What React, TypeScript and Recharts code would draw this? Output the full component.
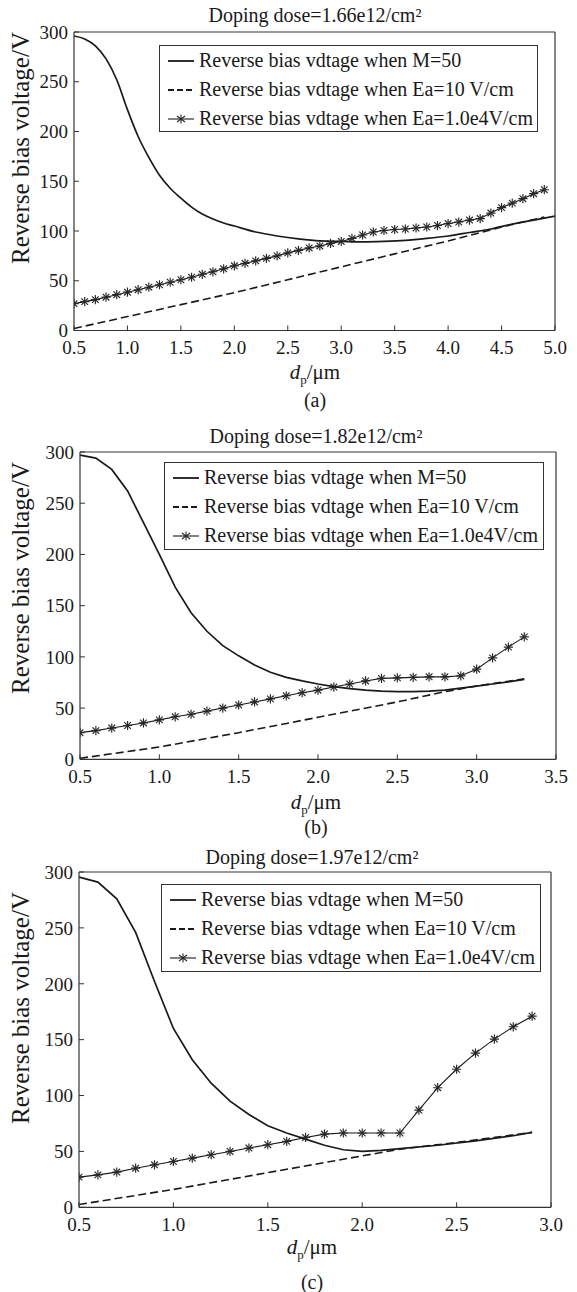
import React from 'react';
import { LineChart, Line, XAxis, YAxis, Legend } from 'recharts';

const FONT = '"Liberation Serif", "Times New Roman", Times, serif';
const INK = '#1a1a1a';
const FRAME = '#333333';

// Axis ticks
const voltageTicks = [0, 50, 100, 150, 200, 250, 300];
const dpTicksA = [0.5, 1.0, 1.5, 2.0, 2.5, 3.0, 3.5, 4.0, 4.5, 5.0];
const dpTicksB = [0.5, 1.0, 1.5, 2.0, 2.5, 3.0, 3.5];
const dpTicksC = [0.5, 1.0, 1.5, 2.0, 2.5, 3.0];

const seriesNames = [
  'Reverse bias vdtage when M=50',
  'Reverse bias vdtage when Ea=10 V/cm',
  'Reverse bias vdtage when Ea=1.0e4V/cm',
];

// (a) doping dose 1.66e12/cm2
const dpM50A = [0.5, 0.6, 0.7, 0.8, 0.9, 1.0, 1.1, 1.2, 1.3, 1.4, 1.5, 1.6, 1.7, 1.8, 1.9, 2.0, 2.2, 2.4, 2.6, 2.8, 3.0, 3.2, 3.4, 3.6, 3.8, 4.0, 4.2, 4.4, 4.6, 4.8, 5.0];
const vM50A = [296, 293, 286, 273, 252, 222, 195, 174, 156, 143, 133, 124, 117, 112, 108, 105, 99, 95, 92, 90, 89.5, 89, 89.5, 90.5, 92.5, 95, 98.5, 102, 107, 111, 115];
const dpEa10A = [0.5, 1.0, 1.5, 2.0, 2.5, 3.0, 3.5, 4.0, 4.5, 4.9];
const vEa10A = [2, 14, 26, 38, 51, 64, 77, 90, 104, 114];
const dpEa1e4A = [0.5, 0.6, 0.7, 0.8, 0.9, 1.0, 1.1, 1.2, 1.3, 1.4, 1.5, 1.6, 1.7, 1.8, 1.9, 2.0, 2.1, 2.2, 2.3, 2.4, 2.5, 2.6, 2.7, 2.8, 2.9, 3.0, 3.1, 3.2, 3.3, 3.4, 3.5, 3.6, 3.7, 3.8, 3.9, 4.0, 4.1, 4.2, 4.3, 4.4, 4.5, 4.6, 4.7, 4.8, 4.9];
const vEa1e4A = [27, 29, 31, 33.5, 36, 38.5, 41, 43.5, 46, 48.5, 51, 53.5, 56.5, 59, 62, 65, 67.5, 70, 72.5, 75, 78, 80.5, 83, 85, 87.5, 89.5, 92.5, 96, 99, 100.5, 101.5, 102, 103, 104, 105.5, 107.5, 109, 111, 112.5, 118, 123.5, 128, 132.5, 137.5, 141.5];

// (b) doping dose 1.82e12/cm2
const dpM50B = [0.5, 0.6, 0.7, 0.8, 0.9, 1.0, 1.1, 1.2, 1.3, 1.4, 1.5, 1.6, 1.7, 1.8, 1.9, 2.0, 2.1, 2.2, 2.3, 2.4, 2.5, 2.6, 2.7, 2.8, 2.9, 3.0, 3.1, 3.2, 3.3];
const vM50B = [297, 294, 283, 262, 231, 200, 168, 143, 125, 111, 101, 92, 85, 80, 76.5, 73.5, 71, 69, 67.5, 66.5, 66, 66, 66.5, 67.5, 69.5, 71.5, 73.5, 75.5, 78];
const dpEa10B = [0.5, 1.0, 1.5, 2.0, 2.5, 2.8, 3.0, 3.3];
const vEa10B = [1, 12, 26, 41, 56, 66, 71.5, 78.5];
const dpEa1e4B = [0.5, 0.6, 0.7, 0.8, 0.9, 1.0, 1.1, 1.2, 1.3, 1.4, 1.5, 1.6, 1.7, 1.8, 1.9, 2.0, 2.1, 2.2, 2.3, 2.4, 2.5, 2.6, 2.7, 2.8, 2.9, 3.0, 3.1, 3.2, 3.3];
const vEa1e4B = [26, 28, 30.5, 33, 35.5, 38.5, 41.5, 44, 47, 50, 53, 56, 59, 62, 65, 67.5, 70.5, 73.5, 76.5, 79, 79.5, 80, 80.5, 80.5, 81.5, 88, 99, 109.5, 119.5];

// (c) doping dose 1.97e12/cm2
const dpM50C = [0.5, 0.6, 0.7, 0.8, 0.9, 1.0, 1.1, 1.2, 1.3, 1.4, 1.5, 1.6, 1.7, 1.8, 1.9, 2.0, 2.1, 2.2, 2.4, 2.6, 2.8, 2.9];
const vM50C = [295.5, 291, 276, 246, 202, 160, 132, 111, 95, 83, 73, 66.5, 61, 55.5, 51.5, 50, 51, 52.5, 55.5, 59.5, 64, 67];
const dpEa10C = [0.5, 1.0, 1.5, 2.0, 2.2, 2.5, 2.9];
const vEa10C = [2.5, 16, 31, 46, 52, 58, 67];
const dpEa1e4C = [0.5, 0.6, 0.7, 0.8, 0.9, 1.0, 1.1, 1.2, 1.3, 1.4, 1.5, 1.6, 1.7, 1.8, 1.9, 2.0, 2.1, 2.2, 2.3, 2.4, 2.5, 2.6, 2.7, 2.8, 2.9];
const vEa1e4C = [27, 29, 31.5, 35, 38, 41, 44, 47, 50, 53, 56, 59, 62.5, 65.5, 66.5, 66.5, 66.5, 66.5, 87, 107, 123.5, 138, 150.5, 161.5, 171];

type Pt = { x: number; y: number };
const pts = (xs: number[], ys: number[]): Pt[] => xs.map((x, i) => ({ x, y: ys[i] }));

// Asterisk marker: "+" overlaid with "x"
const Star = (props: any) => {
  const { cx, cy, index } = props;
  if (cx == null || cy == null) return <g key={`s-${index}`} />;
  const r = 4.6;
  const d = r * 0.72;
  return (
    <g key={`s-${index}`} stroke="#262626" strokeWidth={1.15}>
      <line x1={cx} y1={cy - r} x2={cx} y2={cy + r} />
      <line x1={cx - r} y1={cy} x2={cx + r} y2={cy} />
      <line x1={cx - d} y1={cy - d} x2={cx + d} y2={cy + d} />
      <line x1={cx - d} y1={cy + d} x2={cx + d} y2={cy - d} />
    </g>
  );
};

const LegendIcon = ({ kind }: { kind: number }) => (
  <svg width={26} height={12} style={{ display: 'block' }}>
    <line x1={0} y1={6} x2={26} y2={6} stroke={INK} strokeWidth={kind === 2 ? 1.1 : 1.8} strokeDasharray={kind === 1 ? '6 3' : undefined} />
    {kind === 2 && (
      <g stroke="#262626" strokeWidth={1.1}>
        <line x1={13} y1={1.5} x2={13} y2={10.5} />
        <line x1={9} y1={3} x2={17} y2={9} />
        <line x1={9} y1={9} x2={17} y2={3} />
      </g>
    )}
  </svg>
);

const LegendBox = () => (
  <div
    style={{
      width: '100%',
      height: '100%',
      boxSizing: 'border-box',
      border: `1px solid ${FRAME}`,
      background: '#fff',
      fontFamily: FONT,
      fontSize: 20,
      color: INK,
    }}
  >
    {seriesNames.map((name, i) => (
      <div key={name} style={{ display: 'flex', alignItems: 'center', height: 29, whiteSpace: 'nowrap' }}>
        <div style={{ marginLeft: 8, marginRight: 5 }}>
          <LegendIcon kind={i} />
        </div>
        <span>{name}</span>
      </div>
    ))}
  </div>
);

type Box = { left: number; top: number; right: number; bottom: number };

type PanelProps = {
  top: number;
  height: number;
  plot: Box; // plot frame edges, relative to the panel
  xMax: number;
  xTicks: number[];
  m50: Pt[];
  ea10: Pt[];
  ea1e4: Pt[];
  title: string;
  tag: string;
  titleY: number;
  xLabelY: number;
  tagY: number;
  yLabelY: number;
  centerX: number;
  legendBox: { left: number; top: number; width: number; height: number };
  smooth: boolean;
};

const tickText = { fill: INK, fontSize: 19, fontFamily: FONT };
const frameLine = { stroke: FRAME, strokeWidth: 1.2 };

const Panel = (p: PanelProps) => {
  const dom: [number, number] = [0.5, p.xMax];
  // each axis band is 1px wide, sitting just outside the plot frame
  const margin = {
    top: p.plot.top - 1,
    left: p.plot.left - 1,
    right: 577 - p.plot.right - 1,
    bottom: p.height - p.plot.bottom - 1,
  };
  return (
    <div style={{ position: 'absolute', left: 0, top: p.top, width: 577, height: p.height }}>
      <LineChart width={577} height={p.height} margin={margin}>
        <XAxis
          xAxisId="b"
          dataKey="x"
          type="number"
          domain={dom}
          ticks={p.xTicks}
          interval={0}
          allowDataOverflow
          height={1}
          tickSize={-5}
          tickMargin={15}
          tickFormatter={(v: number) => v.toFixed(1)}
          axisLine={frameLine}
          tickLine={{ stroke: FRAME }}
          tick={tickText}
        />
        <XAxis
          xAxisId="t"
          orientation="top"
          dataKey="x"
          type="number"
          domain={dom}
          ticks={p.xTicks}
          interval={0}
          allowDataOverflow
          height={1}
          tickSize={-5}
          tick={false}
          axisLine={frameLine}
          tickLine={{ stroke: FRAME }}
        />
        <YAxis
          yAxisId="l"
          type="number"
          domain={[0, 300]}
          ticks={voltageTicks}
          interval={0}
          allowDataOverflow
          width={1}
          tickSize={-5}
          tickMargin={11}
          axisLine={frameLine}
          tickLine={{ stroke: FRAME }}
          tick={tickText}
        />
        <YAxis
          yAxisId="r"
          orientation="right"
          type="number"
          domain={[0, 300]}
          ticks={voltageTicks}
          interval={0}
          allowDataOverflow
          width={1}
          tickSize={-5}
          tick={false}
          axisLine={frameLine}
          tickLine={{ stroke: FRAME }}
        />
        <Legend
          layout="horizontal"
          verticalAlign="middle"
          align="center"
          content={() => <LegendBox />}
          wrapperStyle={{ ...p.legendBox, position: 'absolute' }}
        />
        <Line
          xAxisId="b"
          yAxisId="l"
          data={p.ea10}
          dataKey="y"
          name={seriesNames[1]}
          type="linear"
          stroke={INK}
          strokeWidth={1.6}
          strokeDasharray="8 4"
          dot={false}
          isAnimationActive={false}
        />
        <Line
          xAxisId="b"
          yAxisId="l"
          data={p.m50}
          dataKey="y"
          name={seriesNames[0]}
          type={p.smooth ? 'monotone' : 'linear'}
          stroke={INK}
          strokeWidth={1.7}
          dot={false}
          isAnimationActive={false}
        />
        <Line
          xAxisId="b"
          yAxisId="l"
          data={p.ea1e4}
          dataKey="y"
          name={seriesNames[2]}
          type="linear"
          stroke={INK}
          strokeWidth={1.1}
          dot={Star}
          isAnimationActive={false}
        />
      </LineChart>

      <div
        style={{
          position: 'absolute',
          left: p.centerX - 200,
          top: p.titleY - 12,
          width: 400,
          lineHeight: '24px',
          textAlign: 'center',
          fontFamily: FONT,
          fontSize: 20,
          color: INK,
          whiteSpace: 'nowrap',
        }}
      >
        {p.title}
      </div>

      <div
        style={{
          position: 'absolute',
          left: 21 - 200,
          top: p.yLabelY - 13,
          width: 400,
          height: 26,
          lineHeight: '26px',
          textAlign: 'center',
          fontFamily: FONT,
          fontSize: 25,
          color: INK,
          whiteSpace: 'nowrap',
          transform: 'rotate(-90deg)',
        }}
      >
        Reverse bias voltage/V
      </div>

      <div
        style={{
          position: 'absolute',
          left: p.centerX - 100,
          top: p.xLabelY - 12,
          width: 200,
          lineHeight: '24px',
          textAlign: 'center',
          fontFamily: FONT,
          fontSize: 21,
          color: INK,
          whiteSpace: 'nowrap',
        }}
      >
        <span style={{ fontStyle: 'italic' }}>d</span>
        <span style={{ fontSize: 13, position: 'relative', top: 5 }}>p</span>
        <span>/μm</span>
      </div>

      <div
        style={{
          position: 'absolute',
          left: p.centerX - 50,
          top: p.tagY - 12,
          width: 100,
          lineHeight: '24px',
          textAlign: 'center',
          fontFamily: FONT,
          fontSize: 20,
          color: INK,
        }}
      >
        {p.tag}
      </div>
    </div>
  );
};

export default function App() {
  return (
    <div style={{ position: 'absolute', left: 0, top: 0, width: 577, height: 1292, background: '#fff' }}>
      <Panel
        top={0}
        height={420}
        plot={{ left: 74, top: 32, right: 555, bottom: 330.5 }}
        xMax={5.0}
        xTicks={dpTicksA}
        m50={pts(dpM50A, vM50A)}
        ea10={pts(dpEa10A, vEa10A)}
        ea1e4={pts(dpEa1e4A, vEa1e4A)}
        title="Doping dose=1.66e12/cm²"
        tag="(a)"
        titleY={14.5}
        xLabelY={372}
        tagY={400}
        yLabelY={148}
        centerX={315}
        legendBox={{ left: 159, top: 45, width: 379, height: 87 }}
        smooth
      />
      <Panel
        top={420}
        height={420}
        plot={{ left: 80, top: 32, right: 556, bottom: 339.3 }}
        xMax={3.5}
        xTicks={dpTicksB}
        m50={pts(dpM50B, vM50B)}
        ea10={pts(dpEa10B, vEa10B)}
        ea1e4={pts(dpEa1e4B, vEa1e4B)}
        title="Doping dose=1.82e12/cm²"
        tag="(b)"
        titleY={16.4}
        xLabelY={382}
        tagY={407}
        yLabelY={158}
        centerX={316}
        legendBox={{ left: 164, top: 42, width: 380, height: 88 }}
        smooth={false}
      />
      <Panel
        top={840}
        height={452}
        plot={{ left: 79, top: 32, right: 551, bottom: 367.3 }}
        xMax={3.0}
        xTicks={dpTicksC}
        m50={pts(dpM50C, vM50C)}
        ea10={pts(dpEa10C, vEa10C)}
        ea1e4={pts(dpEa1e4C, vEa1e4C)}
        title="Doping dose=1.97e12/cm²"
        tag="(c)"
        titleY={17}
        xLabelY={407}
        tagY={442}
        yLabelY={168}
        centerX={312}
        legendBox={{ left: 161, top: 44, width: 380, height: 88 }}
        smooth={false}
      />
    </div>
  );
}
